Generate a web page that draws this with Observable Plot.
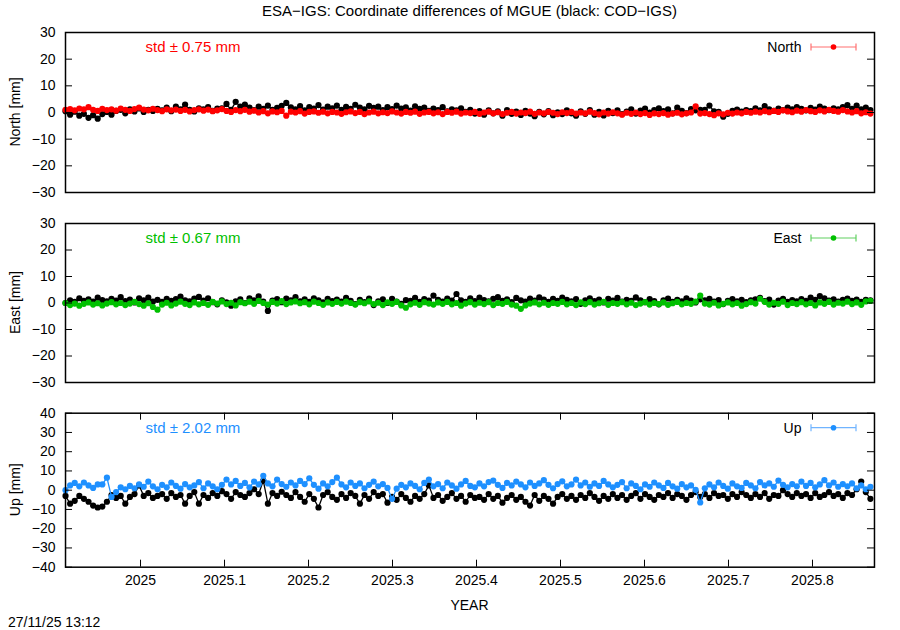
<!DOCTYPE html>
<html><head><meta charset="utf-8">
<script src="https://cdn.jsdelivr.net/npm/d3@7"></script>
<script src="https://cdn.jsdelivr.net/npm/@observablehq/plot@0.6"></script>
<style>
body{margin:0;background:#fff;}
#wrap{position:relative;width:900px;height:630px;font-family:"Liberation Sans",Arial,sans-serif;overflow:hidden;}
#wrap > svg{position:absolute;left:0;}
</style></head><body><div id="wrap"></div>
<script>
// ---- data ----
const startYear = 2024.9107;          // first epoch (decimal year)
const epochStep = 2 / 365.25;         // sampling: every second day
const xDomain = [2024.9107, 2025.8738];
const xTickValues = [2025, 2025.1, 2025.2, 2025.3, 2025.4, 2025.5, 2025.6, 2025.7, 2025.8];
const xTickLabels = ["2025", "2025.1", "2025.2", "2025.3", "2025.4", "2025.5", "2025.6", "2025.7", "2025.8"];
const neTicks = [-30, -20, -10, 0, 10, 20, 30];
const upTicks = [-40, -30, -20, -10, 0, 10, 20, 30, 40];
const titleText = "ESA\u2212IGS: Coordinate differences of MGUE (black: COD\u2212IGS)";
const stamp = "27/11/25 13:12";

const northESA = [1.0,1.3,0.8,1.5,1.2,2.0,1.0,0.6,1.4,0.9,
1.2,0.7,1.5,1.0,0.6,1.3,1.8,1.1,0.8,1.4,
0.9,0.5,1.2,0.8,1.1,0.6,1.0,0.4,0.9,1.2,
0.7,1.1,0.5,0.8,1.3,0.6,0.2,0.9,0.5,1.0,
0.3,0.7,0.0,0.5,-0.3,0.4,0.1,0.6,-1.2,0.3,
0.0,0.5,-0.4,0.2,0.4,-0.1,0.3,-0.3,0.2,0.0,
-0.5,0.1,0.4,-0.2,0.2,-0.6,0.0,0.3,-0.3,0.1,
-0.2,0.4,0.0,-0.4,0.2,-0.1,0.3,-0.5,0.0,0.2,
-0.3,0.1,-0.6,0.2,-0.1,0.3,-0.4,0.0,-0.2,0.2,
-0.5,0.0,0.3,-0.3,0.1,-0.6,-0.1,0.2,-0.4,0.0,
-0.2,0.3,-0.5,0.0,-0.3,0.2,-0.1,-0.6,0.1,-0.2,
0.2,-0.4,0.0,-0.3,0.3,-0.2,-0.7,0.0,-0.4,0.1,
-0.3,-0.8,-0.1,-0.5,0.0,-0.6,-0.2,-0.9,-0.3,-0.6,
-0.2,-0.8,-0.4,-0.1,-0.7,-0.3,0.0,2.3,-0.4,-0.2,
-0.6,-1.0,-0.3,-0.7,-0.1,-0.4,0.0,-0.3,0.2,-0.1,
0.3,0.0,0.5,0.1,0.6,0.2,0.8,0.4,0.1,0.7,
0.3,0.9,0.5,0.2,0.8,0.4,1.0,0.6,0.3,0.9,
0.4,0.0,0.5,-0.3,0.1,-0.4];

const northCOD = [0.5,-0.8,0.3,-1.2,-0.5,-2.0,-1.0,-2.3,-0.6,0.2,
-0.8,0.6,1.0,-0.3,1.2,0.4,1.5,0.2,1.0,0.6,
1.4,0.8,1.8,0.5,2.2,1.2,3.0,1.0,0.4,1.6,
1.2,2.0,0.6,1.5,1.6,3.2,1.0,4.0,2.2,3.0,
1.8,0.9,2.2,1.4,2.6,1.0,1.7,2.5,3.6,1.9,
1.2,2.4,0.8,2.0,1.5,2.8,1.1,2.2,1.6,2.6,
1.0,2.1,1.4,2.9,1.8,1.2,2.5,1.7,2.2,0.9,
2.0,1.3,2.6,1.5,1.9,0.7,2.3,1.4,1.8,0.6,
1.5,0.9,2.0,0.4,1.2,0.8,1.6,0.2,1.0,-0.4,
0.5,-0.8,0.8,-0.3,0.4,-1.2,0.9,-0.5,0.3,-0.9,
0.6,-0.4,-1.4,0.2,-0.7,0.5,-1.0,0.1,-0.6,0.8,
-0.3,-1.2,0.4,-0.5,0.9,-0.8,0.2,-1.1,0.6,-0.2,
0.8,-0.6,0.3,1.2,-0.4,0.7,1.5,0.0,0.9,1.6,
0.5,1.2,-0.3,1.8,0.6,-0.2,1.3,0.8,1.0,1.0,
2.6,0.4,0.2,-1.6,-0.5,0.6,1.1,0.3,0.9,0.5,
1.6,0.8,2.4,1.2,0.6,1.5,0.9,1.8,1.2,2.0,
1.4,0.8,1.7,1.1,2.2,1.5,0.9,1.6,1.2,2.0,
2.8,1.4,2.6,1.2,1.8,0.9];

const eastESA = [0.0,-0.8,-0.2,-1.0,-0.3,0.2,-0.6,-0.1,-0.9,-0.2,
0.3,-0.5,0.0,-0.8,-0.2,0.4,-0.4,-1.0,-0.1,-1.5,
-2.5,-0.6,0.1,-0.9,-0.2,0.5,-0.3,-0.8,0.2,-0.5,
0.0,-0.7,0.4,-0.2,0.6,-0.4,0.1,-0.9,0.3,-0.1,
0.5,-0.3,0.8,0.0,-0.6,0.4,-0.2,0.7,-0.4,0.2,
0.6,-0.1,0.3,-0.5,0.5,0.0,-0.7,0.2,-0.3,0.4,
-0.2,0.5,0.0,-0.6,0.3,-0.1,0.6,-0.4,0.1,-0.8,
0.2,-0.3,0.4,-0.9,-1.8,-0.5,0.1,-0.7,0.3,-0.2,
-0.6,0.2,-0.3,0.4,-0.5,0.0,-1.0,-0.2,0.3,-0.6,
0.1,-0.4,0.3,-0.8,0.0,-0.3,0.4,-0.6,-1.0,-2.2,
-0.9,-0.2,0.2,-0.5,0.1,-0.7,0.0,-0.3,0.4,-0.5,
0.0,-0.8,0.2,-0.4,0.3,-0.6,-0.1,0.4,-0.7,0.0,
-0.3,0.3,-0.5,0.1,-0.8,-0.2,0.3,-0.6,0.0,-0.4,
0.2,-0.7,-0.1,0.4,-0.5,0.0,-0.3,0.5,2.8,-0.2,
-0.6,0.1,-0.9,-0.3,0.2,-0.5,0.0,-1.0,-0.4,0.3,
-0.2,1.6,0.4,-0.6,0.1,-0.3,0.5,-0.8,0.0,-0.4,
0.3,-0.5,0.0,-0.9,0.2,-0.3,0.4,-0.6,0.1,-0.2,
0.5,-0.4,0.2,-0.7,0.6,0.8];

const eastCOD = [0.0,1.0,0.4,1.8,0.8,1.4,0.5,2.0,1.1,0.6,
1.6,0.9,2.2,0.7,1.3,0.2,1.8,1.0,2.0,0.5,
1.2,0.4,1.6,0.8,1.5,2.4,1.0,0.6,1.7,2.3,
0.9,1.8,0.3,-0.5,1.0,0.2,-1.0,0.6,1.4,0.0,
1.8,1.0,2.5,0.5,-3.0,0.9,1.5,0.3,1.7,1.0,
2.2,0.6,1.4,0.4,1.8,1.0,0.2,1.6,0.7,1.3,
0.5,1.9,0.8,-0.4,1.2,0.3,1.7,-0.8,0.6,1.4,
0.0,1.6,0.5,-0.3,1.1,0.8,1.9,0.4,1.5,0.9,
2.8,1.2,0.5,1.7,0.9,3.4,1.0,0.4,1.8,0.7,
2.0,1.1,0.6,1.6,2.2,0.8,1.4,0.3,1.9,1.0,
0.5,1.7,0.9,2.1,1.3,0.4,1.6,0.8,2.0,1.2,
0.6,1.5,-0.3,1.0,1.8,0.7,1.3,0.2,1.6,0.9,
1.9,0.5,1.2,0.8,2.1,1.0,0.3,1.5,0.7,-0.5,
1.0,1.7,0.4,1.2,0.6,1.8,0.9,0.2,1.4,1.0,
1.6,0.5,1.1,-0.4,0.8,1.5,0.6,1.2,0.3,1.0,
1.4,1.9,0.7,1.3,-0.6,0.9,1.6,0.4,1.1,0.6,
1.5,0.8,2.0,1.2,2.6,1.8,0.9,1.4,0.5,1.2,
1.7,0.8,1.3,0.4,1.2,1.0];

const upESA = [0.0,2.5,3.8,2.0,4.0,2.5,1.2,3.0,3.0,6.5,
-3.5,-1.0,1.5,0.5,2.2,1.0,3.0,1.8,4.5,2.0,
0.5,2.8,1.5,4.0,2.2,0.8,3.2,1.5,2.5,4.2,
1.0,3.5,2.0,0.5,2.8,5.5,3.0,4.8,2.2,3.8,
1.5,4.5,3.0,7.5,3.5,2.0,5.5,3.2,1.8,4.0,
2.5,4.8,3.2,6.2,2.8,0.8,3.5,2.0,4.2,6.5,
3.0,1.5,4.0,2.2,3.5,1.0,2.8,4.5,2.0,3.2,
1.2,-4.5,0.8,2.8,1.5,3.5,2.2,0.5,3.8,5.5,
2.0,3.2,1.0,4.0,2.5,0.8,3.0,4.8,2.2,1.5,
3.5,2.0,4.2,5.0,2.8,1.2,3.8,2.5,4.5,3.0,
1.5,4.0,2.2,3.5,5.2,2.8,1.0,3.2,4.6,2.0,
3.0,5.5,2.5,4.0,1.8,3.5,2.2,4.8,3.0,1.5,
2.8,4.2,1.0,3.5,2.2,0.5,3.0,1.8,4.0,2.5,
1.2,3.8,2.0,0.8,3.2,1.5,2.5,0.2,-6.4,1.0,
3.0,1.5,4.0,2.2,0.8,3.5,2.0,1.2,3.8,2.5,
1.0,4.2,2.5,3.5,1.8,5.0,2.8,1.5,3.2,2.0,
4.5,2.2,3.8,1.5,3.0,5.2,2.5,4.0,1.8,3.2,
2.0,3.5,1.0,2.5,0.5,1.8];

const upCOD = [-3.0,-7.0,-5.5,-3.0,-4.5,-6.0,-8.0,-9.0,-8.5,-6.0,
-2.5,-4.0,-3.0,-7.0,-3.5,-2.0,2.5,-3.0,-1.5,-4.0,
-3.0,-2.0,-4.5,-1.5,-3.5,-2.5,-7.0,-3.0,-1.0,-7.0,
-2.5,-4.0,-1.5,-3.0,-0.5,-2.0,-4.5,-1.0,-2.5,-3.5,
-1.5,0.5,-2.0,5.0,-7.0,-1.5,-3.0,-0.8,-2.5,-4.0,
-1.0,-3.5,-6.0,-2.0,-4.5,-9.0,-2.5,-1.0,-3.5,-5.0,
-2.0,-4.0,-1.5,-3.0,-7.0,-2.5,-4.5,-1.0,-3.0,-2.0,
-6.5,-3.5,-5.0,-2.0,-4.0,-6.0,-3.0,-4.5,-2.0,2.5,
-4.0,-2.5,-5.5,-3.5,-1.5,-4.5,-3.0,-6.0,-2.5,-4.0,
-3.5,-5.0,-2.0,-4.5,-3.0,-6.5,-4.0,-2.5,-5.0,-3.5,
-6.0,-8.0,-2.5,-5.5,-3.0,-4.5,-7.0,-3.5,-2.0,-4.5,
-3.0,-5.0,-2.5,-4.0,-1.5,-3.5,-5.5,-3.0,-4.5,-2.0,
-4.0,-2.5,-5.0,-3.0,-1.5,-4.5,-2.0,-3.5,-5.0,-2.5,
-3.5,-1.5,-4.0,-2.0,-3.0,-5.0,-2.5,-1.0,-3.5,-2.0,
-4.0,-1.5,-3.0,-2.5,-4.5,-2.0,-3.5,-1.0,-2.5,-4.0,
-2.0,-3.5,-1.5,-4.5,-2.5,-3.0,0.0,-2.0,-3.5,-1.5,
-3.0,-2.0,-4.0,-1.5,-3.5,-2.5,-1.0,-3.0,-2.0,-4.0,
-1.5,-2.5,0.5,4.5,-1.0,-4.5];

const epochs = northESA.map((_, i) => startYear + i * epochStep);

// ---- layout / style ----
const FONT = '"Liberation Sans", Arial, sans-serif';
const FS = 14;
const FS_TITLE = 15;
const fmtY = d => d < 0 ? "\u2212" + Math.abs(d) : String(d);
const W = 900, ML = 65, MR = 26;
const innerW = W - ML - MR;
const tickLen = 7;

const panels = [
  {name: "North", ylabel: "North [mm]", domain: [-30, 30], ticks: neTicks, cod: northCOD, esa: northESA,
   color: "#ff0000", legendLine: "#ff7070", std: "std \u00b1 0.75 mm", top: 0, mt: 32, fh: 160, mb: 8, xAxis: false},
  {name: "East", ylabel: "East [mm]", domain: [-30, 30], ticks: neTicks, cod: eastCOD, esa: eastESA,
   color: "#00c000", legendLine: "#60d060", std: "std \u00b1 0.67 mm", top: 200, mt: 23, fh: 159, mb: 8, xAxis: false},
  {name: "Up", ylabel: "Up [mm]", domain: [-40, 40], ticks: upTicks, cod: upCOD, esa: upESA,
   color: "#1e90ff", legendLine: "#70b4ff", std: "std \u00b1 2.02 mm", top: 390, mt: 22.7, fh: 154, mb: 50, xAxis: true}
];

const wrap = document.getElementById("wrap");

for (const p of panels) {
  const marks = [
    Plot.line(p.cod, {x: (d, i) => epochs[i], y: d => d, stroke: "#000", strokeWidth: 1.3}),
    Plot.dot(p.cod, {x: (d, i) => epochs[i], y: d => d, r: 3.1, fill: "#000", stroke: null}),
    Plot.line(p.esa, {x: (d, i) => epochs[i], y: d => d, stroke: p.color, strokeWidth: 1.3}),
    Plot.dot(p.esa, {x: (d, i) => epochs[i], y: d => d, r: 3.1, fill: p.color, stroke: null}),
    Plot.axisY(p.ticks, {tickSize: 0, tickPadding: 10, tickFormat: fmtY, label: null, fontSize: FS}),
    Plot.tickY(p.ticks, {y: d => d, insetRight: innerW - tickLen, stroke: "#000"}),
    Plot.tickY(p.ticks, {y: d => d, insetLeft: innerW - tickLen, stroke: "#000"}),
    Plot.text([p.std], {text: d => d, frameAnchor: "top-left", dx: 80, dy: 15, textAnchor: "start", lineAnchor: "middle", fill: p.color, fontSize: FS_TITLE}),
    Plot.text([p.name], {text: d => d, frameAnchor: "top-right", dx: -73, dy: 15, textAnchor: "end", lineAnchor: "middle", fill: "#000", fontSize: FS}),
    Plot.frame({stroke: "#000", strokeWidth: 1.5})
  ];
  if (p.xAxis) {
    marks.push(
      Plot.axisX(xTickValues, {tickSize: 0, tickPadding: 8, tickFormat: d => xTickLabels[xTickValues.indexOf(d)], label: null, fontSize: FS}),
      Plot.tickX(xTickValues, {x: d => d, insetBottom: p.fh - tickLen, stroke: "#000"}),
      Plot.tickX(xTickValues, {x: d => d, insetTop: p.fh - tickLen, stroke: "#000"})
    );
  }
  const chart = Plot.plot({
    width: W, height: p.mt + p.fh + p.mb,
    marginLeft: ML, marginRight: MR, marginTop: p.mt, marginBottom: p.mb,
    style: {fontFamily: FONT, fontSize: FS + "px", color: "#000", background: "transparent", overflow: "visible"},
    x: {domain: xDomain, axis: p.xAxis ? undefined : null},
    y: {domain: p.domain},
    marks
  });
  chart.style.position = "absolute";
  chart.style.top = p.top + "px";
  chart.style.left = "0px";
  wrap.appendChild(chart);
  p.frameTop = p.top + p.mt;
  p.frameMid = p.top + p.mt + p.fh / 2;
}

// ---- overlay: title, axis titles, legend keys, timestamp ----
const ov = d3.select(wrap).append("svg")
  .attr("width", W).attr("height", 630)
  .style("position", "absolute").style("top", "0px").style("left", "0px")
  .style("font-family", FONT).style("font-size", FS + "px").style("pointer-events", "none");

const cx = ML + innerW / 2;
ov.append("text").attr("x", cx).attr("y", 10).attr("text-anchor", "middle")
  .attr("dominant-baseline", "central").style("font-size", FS_TITLE + "px").text(titleText);
ov.append("text").attr("x", cx).attr("y", 605).attr("text-anchor", "middle")
  .attr("dominant-baseline", "central").text("YEAR");
ov.append("text").attr("x", 8).attr("y", 622).attr("dominant-baseline", "central").text(stamp);

for (const p of panels) {
  ov.append("text").attr("transform", `translate(15,${p.frameMid}) rotate(-90)`)
    .attr("text-anchor", "middle").attr("dominant-baseline", "central").text(p.ylabel);
  const ly = p.frameTop + 15, x1 = 811, x2 = 856;
  const g = ov.append("g").attr("stroke", p.legendLine).attr("stroke-width", 1.2);
  g.append("line").attr("x1", x1).attr("x2", x2).attr("y1", ly).attr("y2", ly);
  g.append("line").attr("x1", x1).attr("x2", x1).attr("y1", ly - 3.5).attr("y2", ly + 3.5);
  g.append("line").attr("x1", x2).attr("x2", x2).attr("y1", ly - 3.5).attr("y2", ly + 3.5);
  ov.append("circle").attr("cx", (x1 + x2) / 2).attr("cy", ly).attr("r", 2.8).attr("fill", p.color);
}
</script>
</body></html>
